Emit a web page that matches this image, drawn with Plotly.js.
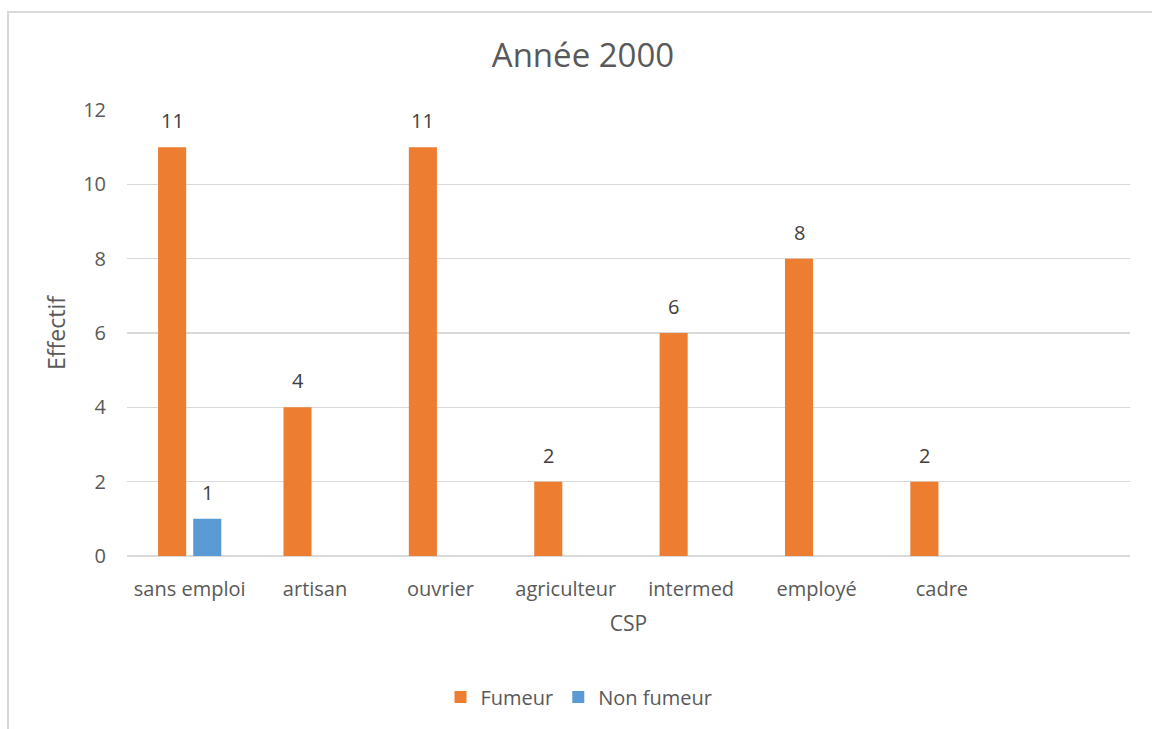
<!DOCTYPE html>
<html>
<head>
<meta charset="utf-8">
<script src="https://cdn.plot.ly/plotly-3.0.1.min.js"></script>
<style>
  html, body { margin: 0; padding: 0; background: #fff; overflow: hidden; }
  #chart { width: 1152px; height: 729px; }
  #frame { position: absolute; left: 7px; top: 11px; width: 1300px; height: 900px;
           border-left: 2px solid #d9d9d9; border-top: 2px solid #d9d9d9; pointer-events: none; }
</style>
</head>
<body>
<div id="chart"></div>
<div id="frame"></div>
<script>
const categories = ["sans emploi", "artisan", "ouvrier", "agriculteur", "intermed", "employé", "cadre"];
const fumeur = [11, 4, 11, 2, 6, 8, 2];
const nonFumeur = [1, null, null, null, null, null, null];
const yTicks = [0, 2, 4, 6, 8, 10, 12];

const FONT = "Open Sans, Noto Sans, sans-serif";
const GREY = "#595959";
const LABEL = "#404040";

const traces = [
  { type: "bar", name: "Fumeur", x: categories, y: fumeur, marker: { color: "#ED7D31" }, hoverinfo: "x+y" },
  { type: "bar", name: "Non fumeur", x: categories, y: nonFumeur, marker: { color: "#5B9BD5" }, hoverinfo: "x+y" }
];

const annotations = [];
function addLabels(vals, shift) {
  vals.forEach((v, i) => {
    if (v === null || v === undefined) return;
    annotations.push({
      x: categories[i], y: v, xref: "x", yref: "y", text: String(v), showarrow: false,
      xanchor: "center", yanchor: "bottom", xshift: shift, yshift: 11,
      font: { family: FONT, size: 20, color: LABEL }
    });
  });
}
addLabels(fumeur, -17.5);
addLabels(nonFumeur, 17.5);

const layout = {
  width: 1152, height: 729,
  paper_bgcolor: "#ffffff", plot_bgcolor: "#ffffff",
  margin: { l: 127, r: 22, t: 110, b: 173 },
  font: { family: FONT, size: 20, color: GREY },
  title: { text: "Année 2000", font: { family: FONT, size: 33, color: GREY },
           xref: "container", x: 583 / 1152, xanchor: "center",
           yref: "container", y: 1 - 55 / 729, yanchor: "middle" },
  barmode: "group", bargap: 0.44, bargroupgap: 0.2,
  xaxis: {
    type: "category", range: [-0.5, 7.5], showgrid: false, zeroline: false,
    showline: false, ticks: "", ticklabelstandoff: 19,
    tickfont: { family: FONT, size: 20, color: GREY },
    title: { text: "CSP", font: { family: FONT, size: 21, color: GREY }, standoff: 15 }
  },
  yaxis: {
    range: [0, 12], tickvals: yTicks, ticktext: yTicks.map(String),
    showgrid: true, gridcolor: "#d9d9d9", gridwidth: 1.5,
    zeroline: true, zerolinecolor: "#d9d9d9", zerolinewidth: 1.5,
    showline: false, ticks: "", ticklabelstandoff: 20,
    tickfont: { family: FONT, size: 20, color: GREY },
    title: { text: "Effectif", font: { family: FONT, size: 23, color: GREY }, standoff: 11 }
  },
  showlegend: true,
  legend: { orientation: "h", xref: "container", yref: "container",
            x: 579 / 1152, xanchor: "center", y: 1 - 697 / 729, yanchor: "middle",
            font: { family: FONT, size: 20, color: GREY }, itemclick: false },
  annotations: annotations
};

Plotly.newPlot("chart", traces, layout, { displayModeBar: false, staticPlot: true });
</script>
</body>
</html>
